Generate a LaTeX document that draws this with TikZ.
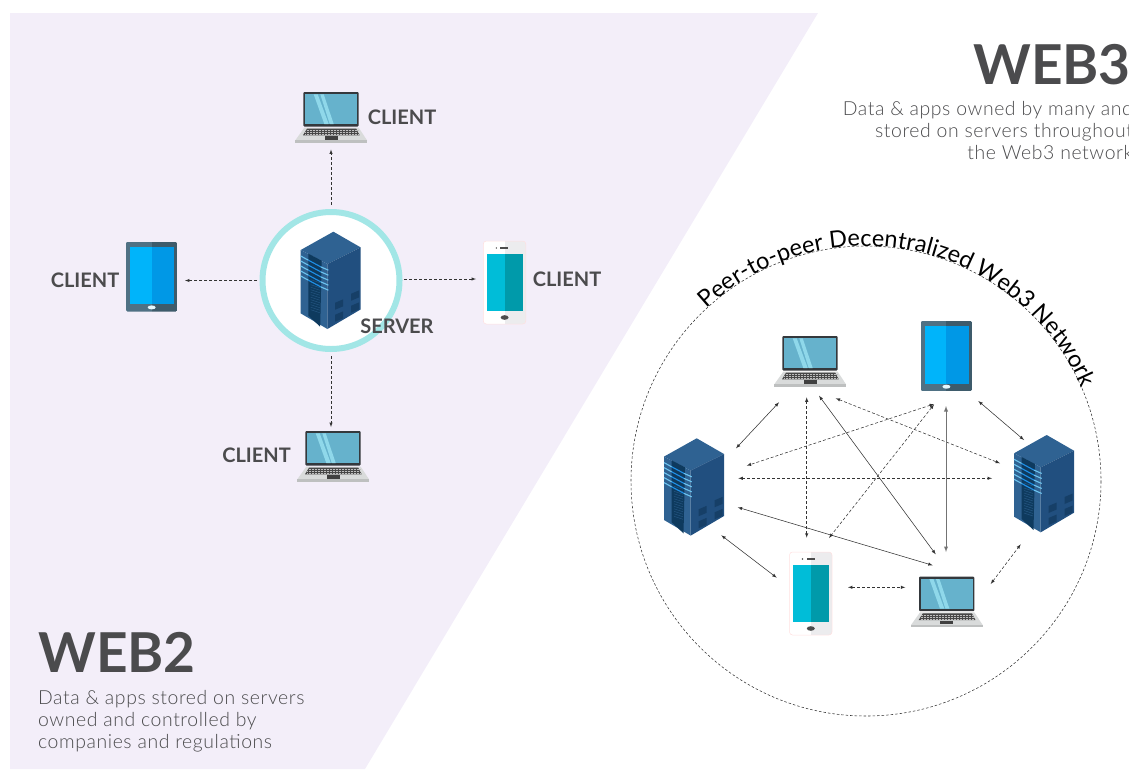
\documentclass[tikz,border=0pt]{standalone}
\usepackage{fontspec}
\setmainfont{Lato}
\newfontfamily\lightfont[LetterSpace=3]{Lato Light}
\usetikzlibrary{calc,arrows,positioning,decorations.text}

\definecolor{web2bg}{HTML}{F3EEF9}
\definecolor{ink}{HTML}{4B4B4D}
\definecolor{ringcol}{HTML}{A2E6E6}
\definecolor{srvleft}{HTML}{2F6292}
\definecolor{srvright}{HTML}{214F7F}
\definecolor{srvdoor}{HTML}{0E3A5E}
\definecolor{srvwin}{HTML}{163F67}
\definecolor{srvbar}{HTML}{1E90E8}
\definecolor{srvbarlight}{HTML}{6CC4F0}
\definecolor{lapscreen}{HTML}{66B2CC}
\definecolor{lapstreak}{HTML}{8FD8EA}
\definecolor{lapframe}{HTML}{34383C}
\definecolor{lapbase}{HTML}{D9DBDB}
\definecolor{lapstrip}{HTML}{BEC0C0}
\definecolor{tabbodyl}{HTML}{4F7184}
\definecolor{tabbodyr}{HTML}{3E5B6B}
\definecolor{tabscrl}{HTML}{00B4FA}
\definecolor{tabscrr}{HTML}{0098E6}
\definecolor{phbody}{HTML}{ECECEE}
\definecolor{phscrl}{HTML}{00BDD8}
\definecolor{phscrr}{HTML}{009AAA}

\tikzset{
  client/.style={font=\bfseries\fontsize{20}{20}\selectfont,text=ink,inner sep=0pt},
  title/.style={font=\bfseries\fontsize{55}{55}\selectfont,text=ink,inner sep=0pt},
  blurb/.style={font=\lightfont\fontsize{19.4}{22}\selectfont,text=ink,inner sep=0pt},
  link/.style={<->,>=latex,line width=.55pt,black!80},
  linkdash/.style={link,dash pattern=on 3pt off 2pt},
  linkgray/.style={link,line width=.9pt,black!55},
  spoke/.style={->,>=latex,line width=.55pt,black!80,dash pattern=on 3pt off 2pt},
  laptop/.pic={
    \fill [lapbase] (-26.7,35.7) -- (27.7,35.7) -- (36,48.3) -- (-35.7,48.3) -- cycle;
    \fill [lapstrip] (-35.7,48.3) rectangle (36,50.7);
    \fill [black!72] (-24,36.7) -- (25.3,36.7) -- (28.7,43.3) -- (-28,43.3) -- cycle;
    \foreach \ky in {38.4,40.2,42}
      \draw [black!25,line width=.4pt,dash pattern=on .7pt off .8pt] (-26,\ky) -- (27,\ky);
    \fill [black!75] (-6.3,44.3) rectangle (6.7,47.7);
    \fill [rounded corners=1pt,lapframe] (-27.7,0) rectangle (27.7,34.5);
    \fill [lapscreen] (-25.7,2.3) rectangle (26,32);
    \fill [lapstreak] (-17.3,2.3) -- (-13.3,2.3) -- (-2.3,32) -- (-6.7,32) -- cycle;
    \fill [lapstreak] (-10.7,2.3) -- (-7.3,2.3) -- (2.7,32) -- (-1.3,32) -- cycle;
  },
  tablet/.pic={
    \begin{scope}
      \clip [rounded corners=1.5pt] (0,0) rectangle (51.4,70);
      \fill [tabbodyl] (0,0) rectangle (25.7,70);
      \fill [tabbodyr] (25.7,0) rectangle (51.4,70);
    \end{scope}
    \fill [tabscrl] (4.3,5) rectangle (25.7,62.7);
    \fill [tabscrr] (25.7,5) rectangle (48,62.7);
    \fill [white!90!cyan] (25.7,65.7) ellipse [x radius=4,y radius=2];
  },
  phone/.pic={
    \begin{scope}
      \clip [rounded corners=3pt] (0,0) rectangle (42.5,83);
      \fill [white] (0,0) rectangle (21.5,83);
      \fill [phbody] (21.5,0) rectangle (42.5,83);
    \end{scope}
    \draw [red!12,line width=.5pt,rounded corners=3pt] (0,0) rectangle (42.5,83);
    \fill [phscrl] (3.3,13.3) rectangle (21.5,70);
    \fill [phscrr] (21.5,13.3) rectangle (39.2,70);
    \fill [black!70] (13,7) circle [radius=.8];
    \fill [black!70] (17,6.2) rectangle (25,7.8);
    \fill [black!70] (21.3,76.5) ellipse [x radius=4,y radius=2.3];
  },
  server/.pic={
    \fill [srvleft] (32.7,0) -- (60,15.7) -- (26.7,32.3) -- (0,18.3) -- cycle;
    \fill [srvleft] (0,18.3) -- (26.7,32.3) -- (26.7,97.3) -- (0,81.7) -- cycle;
    \fill [srvright] (60,15.7) -- (26.7,32.3) -- (26.7,97.3) -- (60,77.7) -- cycle;
    \fill [srvdoor] (7.7,22) -- (21,29) -- (19.5,95) -- (7.7,84) -- cycle;
    \foreach \vy in {48,50.5,...,78}
      \draw [srvleft!70!srvdoor,line width=.5pt] (10,\vy) -- (19,\vy+3);
    \foreach \i in {0,...,4}{
      \draw [srvbarlight,line width=1.1pt] (0,24.3+5*\i) -- (7.7,28.5+5*\i);
      \draw [srvbar,line width=1.1pt] (7.7,28.5+5*\i) -- (20,35.1+5*\i);
      \draw [srvbarlight,line width=1.1pt] (20,35.1+5*\i) -- (27.7,38.5+5*\i);
    }
    \foreach \wx/\wy in {34.5/71,34.5/83,50.5/62,50.5/74}
      \fill [srvwin] (\wx,\wy) -- (\wx+8,\wy-3.4) -- (\wx+8,\wy+3.6) -- (\wx,\wy+7) -- cycle;
  }
}

\begin{document}
\begin{tikzpicture}[x=1pt,y=-1pt]

  \useasboundingbox (0,0) rectangle (1129,769);
  \fill [web2bg] (10,13) -- (818,13) -- (365,769) -- (10,769) -- cycle;

  % web2 side
  \draw [ringcol,line width=6pt,fill=white] (331,280.5) circle [radius=68.5];
  \pic at (300.7,231.7) {server};
  \pic at (331,92) {laptop};
  \pic at (333,431) {laptop};
  \pic at (126,241.7) {tablet};
  \pic at (483.3,241) {phone};

  \node [client] at(397,326) (server_label) {SERVER};
  \node [client] at(402,117) (client_top) {CLIENT};
  \node [client] at(85,280.5) (client_left) {CLIENT};
  \node [client] at(567,279.5) (client_right) {CLIENT};
  \node [client] at(256.5,455) (client_bottom) {CLIENT};

  \foreach \n/\xcoor/\ycoor in {hub_t/331/205,tip_t/331/149.5,hub_b/331/356,tip_b/331/427,
    hub_l/257/280.5,tip_l/185/280.5,hub_r/404/279,tip_r/476/279}{
    \coordinate (\n) at (\xcoor,\ycoor);
  }
  \foreach \from/\to in {hub_t/tip_t,hub_b/tip_b,hub_l/tip_l,hub_r/tip_r}
    \draw [spoke] (\from) -- (\to);

  \node [title,anchor=west] at(38,652.5) (web2_title) {WEB2};
  \node [blurb,anchor=north west,align=left] at(38,690.5) (web2_text)
    {Data \& apps stored on servers\\owned and controlled by\\companies and regulations};

  % web3 side
  \node [title,anchor=west] at(973,65) (web3_title) {WEB3};
  \node [blurb,anchor=north east,align=right] at(1133,101.5) (web3_text)
    {Data \& apps owned by many and\\stored on servers throughout\\the Web3 network};

  \draw [black!80,line width=.55pt,dash pattern=on 2.5pt off 2pt] (866,481) circle [radius=235];
  \path [decorate,decoration={text along path,text align=center,
    text={|\fontsize{23.5}{23.5}\selectfont|Peer-to-peer Decentralized Web3 Network}}]
    (866,481) ++(134.5:235 and -235) arc [start angle=-134.5,end angle=-21.5,radius=235];

  \pic at (810,336) {laptop};
  \pic at (946.7,576.7) {laptop};
  \pic at (920.7,321) {tablet};
  \pic at (789.5,552) {phone};
  \pic at (664,438.3) {server};
  \pic at (1014,435) {server};

  \foreach \n/\xcoor/\ycoor in {a1/779/402.3,a2/736/448.3,b1/806.7/397.3,b2/806.7/537.7,
    c1/819/395.7,c2/935.7/554.3,d1/835.7/398.3,d2/1000/463.3,e1/934/404,e2/746.7/465.7,
    f1/934/404.5,f2/829/538,g1/946/406,g2/946/552,h1/978.3/401,h2/1024/440,
    i1/738.3/478.3,i2/992/478.3,j1/737.7/507.3,j2/932.7/565.3,k1/721.3/535.3,k2/776.7/577.7,
    l1/848/587.3,l2/905.3/587.3,m1/990.7/584,m2/1020.7/544.3}{
    \coordinate (\n) at (\xcoor,\ycoor);
  }
  \foreach \from/\to/\kind in {a1/a2/link,b1/b2/linkdash,c1/c2/link,d1/d2/linkdash,e1/e2/linkdash,
    f1/f2/linkdash,g1/g2/linkgray,h1/h2/link,i1/i2/linkdash,j1/j2/link,k1/k2/link,
    l1/l2/linkdash,m1/m2/linkdash}
    \draw [\kind] (\from) -- (\to);

\end{tikzpicture}
\end{document}
